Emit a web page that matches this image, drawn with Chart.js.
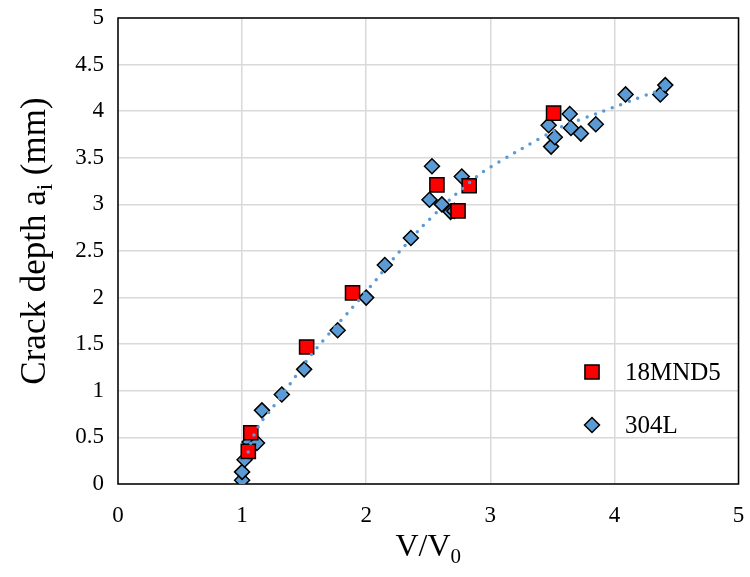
<!DOCTYPE html>
<html>
<head>
<meta charset="utf-8">
<script src="https://cdn.jsdelivr.net/npm/chart.js@4"></script>
<style>
  html, body { margin: 0; padding: 0; background: #fff; }
</style>
</head>
<body>
<canvas id="crackChart" width="750" height="577"></canvas>
<script>
// values
const steelX = [1.05, 1.07, 1.52, 1.89, 2.57, 2.74, 2.83, 3.51];
const steelY = [0.35, 0.55, 1.47, 2.05, 3.21, 2.93, 3.20, 3.98];

const stainlessX = [1.00, 1.00, 1.02, 1.06, 1.12, 1.16, 1.32, 1.50, 1.77, 2.00, 2.15, 2.36, 2.51, 2.53,
    2.61, 2.68, 2.71, 2.77, 3.47, 3.49, 3.52, 3.64, 3.65, 3.73, 3.85, 4.09, 4.37, 4.41];
const stainlessY = [0.04, 0.13, 0.26, 0.45, 0.44, 0.79, 0.96, 1.23, 1.65, 2.00, 2.35, 2.64, 3.05, 3.41,
    3.00, 2.92, 2.93, 3.30, 3.85, 3.62, 3.72, 3.97, 3.82, 3.76, 3.86, 4.18, 4.18, 4.28];

// dotted trend line through the 304L cloud
const trendX = [1.03, 1.08, 1.15, 1.24, 1.38, 1.57, 1.86, 2.08, 2.22, 2.45, 2.69, 2.93, 3.23, 3.57, 3.89, 4.27, 4.40];
const trendY = [0.25, 0.48, 0.66, 0.81, 1.06, 1.41, 1.85, 2.19, 2.42, 2.76, 3.07, 3.34, 3.58, 3.83, 3.99, 4.18, 4.24];

const xTicks = [0, 1, 2, 3, 4, 5];
const yTicks = [0, 0.5, 1, 1.5, 2, 2.5, 3, 3.5, 4, 4.5, 5];

const seriesNames = ["18MND5", "304L"];

const SERIF = "'Liberation Serif', 'Times New Roman', serif";

function toPoints(xs, ys) {
    return xs.map((x, i) => ({ x: x, y: ys[i] }));
}

// plot frame, drawn under the markers
const framePlugin = {
    id: "frame",
    beforeDatasetsDraw(chart) {
        const a = chart.chartArea;
        const ctx = chart.ctx;
        ctx.save();
        ctx.strokeStyle = "#000";
        ctx.lineWidth = 1.5;
        ctx.strokeRect(a.left, a.top, a.right - a.left, a.bottom - a.top);
        ctx.restore();
    },
};

function drawRich(ctx, parts, cx, cy) {
    let total = 0;
    parts.forEach((p) => {
        ctx.font = p.size + "px " + SERIF;
        p.w = ctx.measureText(p.t).width;
        total += p.w;
    });
    let x = cx - total / 2;
    parts.forEach((p) => {
        ctx.font = p.size + "px " + SERIF;
        ctx.fillText(p.t, x, cy + (p.dy || 0));
        x += p.w;
    });
}

// axis titles with subscripts
const titlePlugin = {
    id: "richTitles",
    afterDraw(chart) {
        const ctx = chart.ctx;
        const a = chart.chartArea;
        ctx.save();
        ctx.fillStyle = "#000";
        ctx.textBaseline = "alphabetic";
        ctx.textAlign = "left";
        drawRich(ctx, [
            { t: "V/V", size: 32 },
            { t: "0", size: 21, dy: 7 },
        ], (a.left + a.right) / 2, 556);

        ctx.translate(45, 241);
        ctx.rotate(-Math.PI / 2);
        drawRich(ctx, [
            { t: "Crack depth a", size: 35 },
            { t: "i", size: 23, dy: 7 },
            { t: " (mm)", size: 35 },
        ], 0, 0);
        ctx.restore();
    },
};

// legend inside the plot, lower right
const legendPlugin = {
    id: "innerLegend",
    afterDraw(chart) {
        const ctx = chart.ctx;
        const rows = [
            { ds: chart.data.datasets[1], y: 372 },
            { ds: chart.data.datasets[2], y: 425 },
        ];
        ctx.save();
        rows.forEach((row) => {
            const ds = row.ds;
            ctx.fillStyle = ds.backgroundColor;
            ctx.strokeStyle = ds.borderColor;
            ctx.lineWidth = ds.borderWidth;
            Chart.helpers.drawPoint(ctx, {
                pointStyle: ds.pointStyle,
                radius: ds.pointRadius,
                borderWidth: ds.borderWidth,
                rotation: 0,
            }, 592, row.y);
            ctx.fillStyle = "#000";
            ctx.font = "25px " + SERIF;
            ctx.textBaseline = "middle";
            ctx.textAlign = "left";
            ctx.fillText(ds.label, 625, row.y + 1);
        });
        ctx.restore();
    },
};

new Chart(document.getElementById("crackChart").getContext("2d"), {
    type: "scatter",
    data: {
        datasets: [
            {
                label: "trend",
                data: toPoints(trendX, trendY),
                showLine: true,
                pointRadius: 0,
                borderColor: "#5b9bd5",
                borderWidth: 3.5,
                borderDash: [0, 9],
                borderCapStyle: "round",
                tension: 0.2,
            },
            {
                label: seriesNames[0],
                data: toPoints(steelX, steelY),
                pointStyle: "rect",
                pointRadius: 10,
                backgroundColor: "#ff0000",
                borderColor: "#000",
                borderWidth: 1.5,
            },
            {
                label: seriesNames[1],
                data: toPoints(stainlessX, stainlessY),
                pointStyle: "rectRot",
                pointRadius: 7.5,
                backgroundColor: "#5b9bd5",
                borderColor: "#000",
                borderWidth: 1.5,
            },
        ],
    },
    options: {
        responsive: false,
        animation: false,
        layout: {
            padding: { top: 18, right: 9, left: 0, bottom: 0 },
        },
        plugins: {
            legend: { display: false },
            tooltip: { enabled: false },
        },
        scales: {
            x: {
                min: 0,
                max: 5,
                afterFit(scale) {
                    scale.height = 93;
                    scale.paddingLeft = 0;
                    scale.paddingRight = 0;
                },
                afterBuildTicks(scale) { scale.ticks = xTicks.map((v) => ({ value: v })); },
                ticks: {
                    padding: 18,
                    color: "#000",
                    font: { family: SERIF, size: 23 },
                    maxRotation: 0,
                    callback: (v) => String(v),
                },
                grid: { color: "#d9d9d9", lineWidth: 1.5, drawTicks: false },
                border: { display: false },
            },
            y: {
                min: 0,
                max: 5,
                afterFit(scale) {
                    scale.width = 118;
                    scale.paddingTop = 0;
                    scale.paddingBottom = 0;
                },
                afterBuildTicks(scale) { scale.ticks = yTicks.map((v) => ({ value: v })); },
                ticks: {
                    padding: 14,
                    color: "#000",
                    font: { family: SERIF, size: 23 },
                    callback: (v) => String(v),
                },
                grid: { color: "#d9d9d9", lineWidth: 1.5, drawTicks: false },
                border: { display: false },
            },
        },
    },
    plugins: [framePlugin, titlePlugin, legendPlugin],
});
</script>
</body>
</html>
